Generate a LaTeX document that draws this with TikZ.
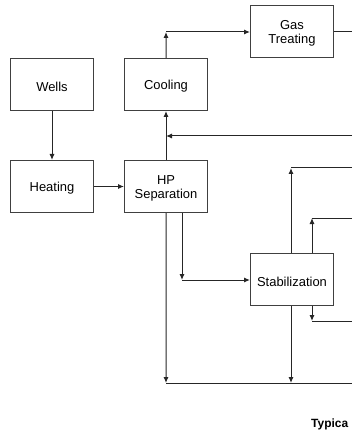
\documentclass[tikz,border=0pt]{standalone}
\usepackage{fontspec}
\setmainfont{Liberation Sans}
\usetikzlibrary{arrows.meta,calc}
\newcommand\lowtxt[1]{\raisebox{-2bp}[\height][\depth]{#1}}
\begin{document}
\begin{tikzpicture}[x=1bp,y=-1bp,
  box/.style={draw=black!75,line width=1bp,minimum width=83bp,minimum height=52bp,inner sep=1bp,align=center,font=\fontsize{13}{14.5}\selectfont,anchor=north west,fill=white},
  flow/.style={draw=black!85,line width=1bp,-{Latex[length=6bp,width=5bp]}},
  plain/.style={draw=black!85,line width=1bp}]
\useasboundingbox (0,0) rectangle (352,440);
\node[box] (wells) at (10,58) {\lowtxt{Wells}};
\node[box] (cooling) at (124,58) {\lowtxt{Cooling}};
\node[box] (gas) at (250,5) {\lowtxt{Gas}\\\lowtxt{Treating}};
\node[box] (heating) at (10,160) {\lowtxt{Heating}};
\node[box] (hp) at (124,160) {\lowtxt{HP}\\\lowtxt{Separation}};
\node[box] (stab) at (250,253) {\lowtxt{Stabilization}};
% edge coordinates
\coordinate (eGas) at (352,32);
\coordinate (eRec) at (352,136);
\coordinate (jRec) at (166,136);
\coordinate (cTop) at (166,32);
\coordinate (hpL) at (182,280);
\coordinate (hpB) at (166,383);
\coordinate (eBot) at (352,383);
\coordinate (s1) at (291,168);
\coordinate (e1) at (352,168);
\coordinate (s2) at (312,218);
\coordinate (e2) at (352,218);
\coordinate (sB1) at (291,383);
\coordinate (sB2) at (312,321);
\coordinate (e3) at (352,321);
% connectors
\draw[flow] (wells.south) -- (heating.north);
\draw[flow] (heating.east) -- (hp.west);
\draw[flow] (hp.north) -- (cooling.south);
\draw[flow] (eRec) -- (jRec);
\draw[flow] (cooling.north) -- (cTop);
\draw[flow] (cTop) -- (gas.west |- cTop);
\draw[plain] (gas.east |- eGas) -- (eGas);
\draw[flow] (hp.south) -- (hpB);
\draw[plain] (hpB) -- (eBot);
\draw[flow] (hp.south -| hpL) -- (hpL);
\draw[flow] (hpL) -- (stab.west |- hpL);
\draw[flow] (stab.north -| s1) -- (s1);
\draw[plain] (s1) -- (e1);
\draw[flow] (stab.north -| s2) -- (s2);
\draw[plain] (s2) -- (e2);
\draw[flow] (stab.south -| sB1) -- (sB1);
\draw[flow] (stab.south -| sB2) -- (sB2);
\draw[plain] (sB2) -- (e3);
\node[anchor=base west,inner sep=0pt,font=\bfseries\fontsize{12}{12}\selectfont] (title) at (311,427) {Typica};
\end{tikzpicture}
\end{document}
